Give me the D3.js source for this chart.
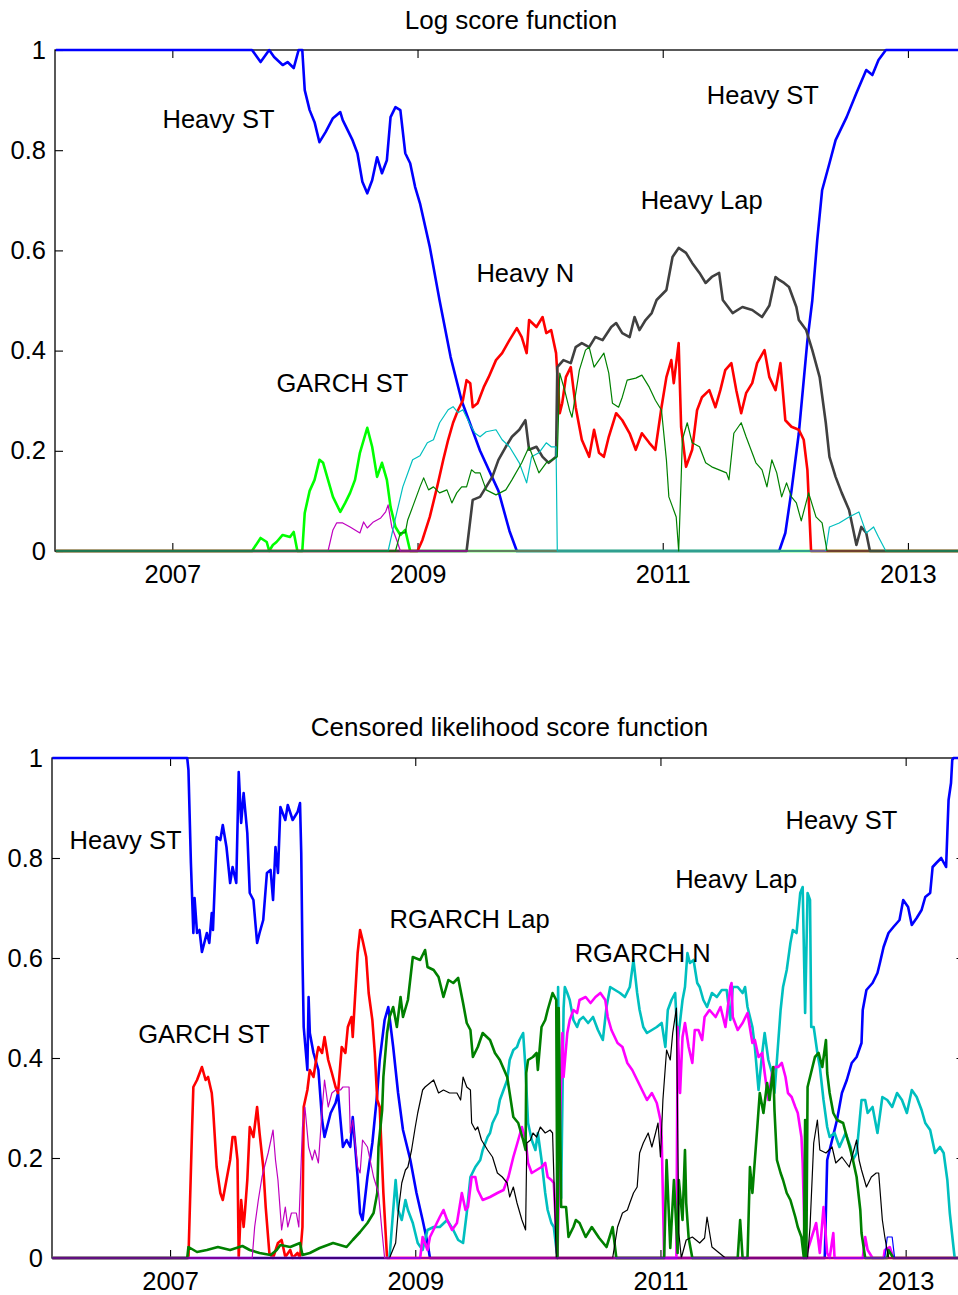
<!DOCTYPE html>
<html><head><meta charset="utf-8">
<script src="https://cdn.jsdelivr.net/npm/d3@7"></script>
<style>
body{margin:0;background:#fff}
svg{display:block}
text{font-family:"Liberation Sans",Arial,Helvetica,sans-serif;fill:#000}
</style>
</head><body><div id="chart"></div>
<script>
// ---------- shared tick labels ----------
const yearTicks = [2007, 2009, 2011, 2013];
const valueTicks = [0, 0.2, 0.4, 0.6, 0.8, 1];

// ---------- TOP PANEL: Log score function ([decimal year, weight]) ----------
const topHeavyST = [[2006.05,1],[2007.65,1],[2007.72,0.976],[2007.79,1],[2007.83,0.986],[2007.90,0.97],[2007.94,0.976],[2007.99,0.964],[2008.03,1],[2008.06,1],[2008.08,0.92],[2008.12,0.88],[2008.16,0.856],[2008.20,0.816],[2008.25,0.836],[2008.31,0.864],[2008.37,0.876],[2008.39,0.86],[2008.43,0.84],[2008.47,0.82],[2008.51,0.794],[2008.55,0.737],[2008.59,0.714],[2008.63,0.74],[2008.67,0.786],[2008.71,0.754],[2008.75,0.78],[2008.78,0.866],[2008.82,0.886],[2008.86,0.88],[2008.90,0.794],[2008.94,0.774],[2008.98,0.727],[2009.02,0.694],[2009.10,0.607],[2009.18,0.5],[2009.27,0.387],[2009.36,0.30],[2009.51,0.2],[2009.66,0.12],[2009.75,0.04],[2009.81,0],[2011.95,0],[2012.00,0.036],[2012.05,0.12],[2012.11,0.235],[2012.18,0.42],[2012.22,0.5],[2012.26,0.62],[2012.30,0.72],[2012.36,0.774],[2012.41,0.82],[2012.50,0.866],[2012.58,0.914],[2012.66,0.96],[2012.71,0.95],[2012.76,0.98],[2012.82,1],[2013.49,1]];
const topGarchST = [[2006.05,0],[2007.65,0],[2007.72,0.026],[2007.77,0.018],[2007.79,0],[2007.82,0.012],[2007.85,0.018],[2007.90,0.032],[2007.96,0.028],[2007.99,0.038],[2008.02,0],[2008.06,0],[2008.08,0.076],[2008.12,0.12],[2008.16,0.142],[2008.20,0.182],[2008.23,0.176],[2008.27,0.142],[2008.31,0.108],[2008.37,0.078],[2008.41,0.096],[2008.45,0.116],[2008.49,0.142],[2008.53,0.196],[2008.59,0.246],[2008.63,0.208],[2008.67,0.148],[2008.71,0.176],[2008.75,0.142],[2008.78,0.088],[2008.82,0.048],[2008.86,0.032],[2008.90,0.042],[2008.94,0],[2013.49,0]];
const topHeavyN = [[2006.05,0],[2009.00,0],[2009.04,0.022],[2009.10,0.068],[2009.16,0.128],[2009.21,0.182],[2009.25,0.222],[2009.29,0.256],[2009.33,0.281],[2009.37,0.301],[2009.40,0.341],[2009.43,0.335],[2009.45,0.287],[2009.49,0.295],[2009.54,0.327],[2009.58,0.347],[2009.64,0.381],[2009.69,0.395],[2009.75,0.421],[2009.81,0.445],[2009.85,0.427],[2009.89,0.395],[2009.91,0.461],[2009.97,0.447],[2010.02,0.467],[2010.05,0.435],[2010.09,0.441],[2010.13,0.395],[2010.16,0.275],[2010.18,0.295],[2010.21,0.347],[2010.25,0.367],[2010.29,0.287],[2010.34,0.222],[2010.40,0.188],[2010.44,0.242],[2010.48,0.196],[2010.52,0.188],[2010.56,0.228],[2010.62,0.275],[2010.67,0.261],[2010.73,0.235],[2010.78,0.202],[2010.83,0.235],[2010.89,0.216],[2010.94,0.202],[2010.99,0.287],[2011.03,0.347],[2011.07,0.381],[2011.09,0.335],[2011.13,0.415],[2011.15,0.248],[2011.19,0.168],[2011.24,0.202],[2011.28,0.281],[2011.32,0.307],[2011.38,0.321],[2011.43,0.287],[2011.47,0.321],[2011.51,0.361],[2011.56,0.375],[2011.60,0.321],[2011.64,0.275],[2011.68,0.315],[2011.73,0.335],[2011.77,0.375],[2011.83,0.401],[2011.87,0.347],[2011.92,0.321],[2011.96,0.375],[2012.00,0.261],[2012.05,0.248],[2012.11,0.242],[2012.15,0.222],[2012.18,0.162],[2012.21,0],[2013.49,0]];
const topHeavyLap = [[2006.05,0],[2009.40,0],[2009.45,0.102],[2009.51,0.108],[2009.56,0.128],[2009.61,0.148],[2009.66,0.182],[2009.72,0.208],[2009.77,0.228],[2009.83,0.242],[2009.88,0.261],[2009.91,0.202],[2009.97,0.208],[2010.02,0.188],[2010.07,0.176],[2010.13,0.188],[2010.14,0.367],[2010.19,0.381],[2010.25,0.375],[2010.29,0.407],[2010.34,0.415],[2010.40,0.407],[2010.45,0.427],[2010.51,0.421],[2010.58,0.447],[2010.62,0.455],[2010.67,0.435],[2010.73,0.427],[2010.77,0.467],[2010.81,0.441],[2010.86,0.461],[2010.91,0.475],[2010.95,0.501],[2011.03,0.521],[2011.08,0.587],[2011.13,0.605],[2011.19,0.595],[2011.24,0.575],[2011.30,0.555],[2011.35,0.535],[2011.40,0.547],[2011.46,0.555],[2011.49,0.501],[2011.57,0.475],[2011.65,0.487],[2011.73,0.481],[2011.81,0.467],[2011.87,0.49],[2011.92,0.547],[2011.95,0.541],[2011.99,0.535],[2012.03,0.527],[2012.09,0.487],[2012.11,0.461],[2012.17,0.441],[2012.22,0.401],[2012.28,0.347],[2012.33,0.256],[2012.36,0.188],[2012.41,0.148],[2012.46,0.116],[2012.52,0.082],[2012.58,0.012],[2012.62,0.048],[2012.66,0.036],[2012.69,0],[2013.49,0]];
const topThinMag = [[2006.05,0],[2008.27,0],[2008.31,0.042],[2008.34,0.056],[2008.39,0.056],[2008.45,0.048],[2008.49,0.042],[2008.53,0.036],[2008.56,0.058],[2008.59,0.046],[2008.64,0.058],[2008.70,0.066],[2008.74,0.078],[2008.76,0.092],[2008.79,0.048],[2008.83,0.022],[2008.86,0],[2013.49,0]];
const topThinCyan = [[2006.05,0],[2008.76,0],[2008.83,0.076],[2008.88,0.128],[2008.96,0.182],[2009.02,0.19],[2009.08,0.216],[2009.13,0.222],[2009.18,0.256],[2009.25,0.282],[2009.29,0.288],[2009.33,0.276],[2009.37,0.282],[2009.43,0.252],[2009.47,0.235],[2009.51,0.228],[2009.56,0.238],[2009.64,0.242],[2009.69,0.222],[2009.75,0.208],[2009.83,0.176],[2009.89,0.136],[2009.93,0.188],[2009.99,0.196],[2010.05,0.216],[2010.09,0.208],[2010.13,0.208],[2010.14,0],[2012.33,0],[2012.36,0.048],[2012.44,0.056],[2012.52,0.068],[2012.60,0.078],[2012.66,0.036],[2012.72,0.048],[2012.76,0.028],[2012.82,0],[2013.49,0]];
const topThinGreen = [[2006.05,0],[2008.82,0],[2008.86,0.036],[2008.90,0.036],[2008.92,0.062],[2008.96,0.088],[2009.02,0.128],[2009.05,0.146],[2009.09,0.122],[2009.13,0.128],[2009.18,0.116],[2009.24,0.122],[2009.28,0.096],[2009.32,0.116],[2009.36,0.128],[2009.40,0.128],[2009.44,0.162],[2009.47,0.156],[2009.51,0.156],[2009.56,0.122],[2009.64,0.112],[2009.72,0.122],[2009.77,0.142],[2009.85,0.176],[2009.91,0.208],[2009.99,0.156],[2010.05,0.176],[2010.10,0.182],[2010.14,0.188],[2010.16,0.355],[2010.20,0.321],[2010.24,0.281],[2010.26,0.267],[2010.32,0.361],[2010.37,0.401],[2010.40,0.407],[2010.44,0.367],[2010.52,0.395],[2010.56,0.355],[2010.59,0.295],[2010.64,0.287],[2010.67,0.307],[2010.71,0.341],[2010.78,0.345],[2010.83,0.351],[2010.89,0.327],[2010.94,0.301],[2010.99,0.281],[2011.03,0.182],[2011.05,0.108],[2011.08,0.088],[2011.11,0.068],[2011.13,0],[2011.15,0.142],[2011.16,0.222],[2011.20,0.256],[2011.24,0.216],[2011.30,0.208],[2011.35,0.176],[2011.40,0.168],[2011.46,0.162],[2011.52,0.156],[2011.54,0.142],[2011.58,0.235],[2011.64,0.256],[2011.68,0.228],[2011.72,0.202],[2011.76,0.176],[2011.81,0.162],[2011.85,0.128],[2011.89,0.182],[2011.93,0.156],[2011.97,0.108],[2012.01,0.136],[2012.05,0.108],[2012.09,0.096],[2012.13,0.06],[2012.19,0.116],[2012.25,0.068],[2012.30,0.056],[2012.34,0],[2013.49,0]];

// ---------- BOTTOM PANEL: Censored likelihood score function ----------
const botHeavyST = [[2006.04,1],[2007.14,1],[2007.15,0.976],[2007.17,0.79],[2007.19,0.65],[2007.20,0.72],[2007.22,0.65],[2007.24,0.656],[2007.26,0.612],[2007.30,0.65],[2007.32,0.63],[2007.34,0.69],[2007.35,0.656],[2007.38,0.842],[2007.41,0.836],[2007.43,0.866],[2007.46,0.822],[2007.49,0.75],[2007.51,0.782],[2007.54,0.75],[2007.56,0.972],[2007.58,0.87],[2007.60,0.93],[2007.63,0.85],[2007.65,0.73],[2007.68,0.716],[2007.71,0.63],[2007.73,0.65],[2007.76,0.676],[2007.79,0.77],[2007.82,0.776],[2007.84,0.716],[2007.86,0.822],[2007.88,0.77],[2007.90,0.902],[2007.94,0.876],[2007.96,0.906],[2008.00,0.876],[2008.04,0.892],[2008.06,0.91],[2008.07,0.81],[2008.08,0.602],[2008.09,0.462],[2008.12,0.376],[2008.13,0.522],[2008.14,0.45],[2008.17,0.41],[2008.21,0.376],[2008.24,0.276],[2008.26,0.242],[2008.31,0.29],[2008.35,0.31],[2008.37,0.33],[2008.41,0.222],[2008.44,0.236],[2008.47,0.222],[2008.49,0.282],[2008.53,0.162],[2008.55,0.09],[2008.57,0.076],[2008.61,0.162],[2008.65,0.23],[2008.69,0.33],[2008.71,0.396],[2008.75,0.476],[2008.78,0.502],[2008.82,0.422],[2008.86,0.33],[2008.90,0.256],[2008.96,0.196],[2009.01,0.13],[2009.06,0.076],[2009.10,0.03],[2009.12,0],[2012.34,0],[2012.36,0.196],[2012.40,0.236],[2012.44,0.276],[2012.48,0.33],[2012.52,0.356],[2012.56,0.39],[2012.60,0.402],[2012.64,0.43],[2012.65,0.496],[2012.68,0.536],[2012.73,0.55],[2012.77,0.57],[2012.79,0.59],[2012.82,0.622],[2012.86,0.65],[2012.90,0.662],[2012.95,0.676],[2012.98,0.716],[2013.02,0.702],[2013.05,0.666],[2013.09,0.68],[2013.13,0.696],[2013.16,0.722],[2013.20,0.73],[2013.22,0.782],[2013.25,0.79],[2013.29,0.80],[2013.33,0.782],[2013.34,0.85],[2013.35,0.916],[2013.37,0.95],[2013.38,0.996],[2013.39,1],[2013.48,1]];
const botThinBlue = [[2006.04,0],[2012.83,0],[2012.85,0.042],[2012.89,0.042],[2012.91,0],[2013.48,0]];
const botGarchST = [[2006.04,0],[2007.15,0],[2007.18,0.262],[2007.19,0.342],[2007.22,0.356],[2007.26,0.382],[2007.29,0.356],[2007.31,0.362],[2007.34,0.33],[2007.35,0.302],[2007.38,0.182],[2007.41,0.13],[2007.43,0.116],[2007.46,0.156],[2007.49,0.196],[2007.51,0.242],[2007.53,0.242],[2007.55,0.196],[2007.56,0],[2007.58,0.116],[2007.60,0.062],[2007.61,0.09],[2007.63,0.156],[2007.65,0.262],[2007.68,0.242],[2007.71,0.302],[2007.73,0.25],[2007.76,0.182],[2007.78,0.102],[2007.81,0.01],[2007.84,0],[2007.88,0.03],[2007.91,0.036],[2007.94,0.002],[2007.98,0.016],[2008.00,0],[2008.04,0.01],[2008.06,0],[2008.08,0.062],[2008.09,0.302],[2008.12,0.336],[2008.14,0.376],[2008.17,0.362],[2008.20,0.41],[2008.21,0.422],[2008.24,0.41],[2008.26,0.442],[2008.29,0.396],[2008.32,0.37],[2008.35,0.342],[2008.37,0.33],[2008.40,0.422],[2008.43,0.41],[2008.45,0.462],[2008.48,0.482],[2008.49,0.442],[2008.53,0.61],[2008.55,0.656],[2008.57,0.636],[2008.60,0.602],[2008.62,0.53],[2008.65,0.476],[2008.67,0.41],[2008.69,0.316],[2008.71,0.302],[2008.74,0.13],[2008.77,0],[2013.48,0]];
const botThinMag = [[2006.04,0],[2007.67,0],[2007.69,0.062],[2007.72,0.116],[2007.75,0.162],[2007.77,0.182],[2007.80,0.21],[2007.84,0.256],[2007.86,0.196],[2007.88,0.156],[2007.91,0.056],[2007.94,0.102],[2007.96,0.062],[2007.99,0.09],[2008.03,0.09],[2008.05,0.062],[2008.08,0.262],[2008.10,0.302],[2008.13,0.222],[2008.16,0.196],[2008.18,0.216],[2008.21,0.19],[2008.24,0.296],[2008.26,0.356],[2008.29,0.302],[2008.32,0.33],[2008.35,0.336],[2008.39,0.336],[2008.41,0.342],[2008.46,0.342],[2008.47,0.25],[2008.49,0.276],[2008.53,0.182],[2008.55,0.17],[2008.57,0.236],[2008.61,0.222],[2008.66,0.162],[2008.70,0.13],[2008.73,0.05],[2008.75,0],[2013.48,0]];
const botRgarchLap = [[2006.04,0],[2007.14,0],[2007.15,0.022],[2007.22,0.012],[2007.30,0.016],[2007.39,0.022],[2007.49,0.016],[2007.59,0.024],[2007.65,0.016],[2007.73,0.01],[2007.82,0.006],[2007.87,0.016],[2007.90,0.026],[2007.98,0.022],[2008.06,0.03],[2008.08,0.006],[2008.14,0.01],[2008.22,0.02],[2008.33,0.03],[2008.44,0.022],[2008.49,0.036],[2008.55,0.052],[2008.61,0.07],[2008.66,0.09],[2008.69,0.13],[2008.70,0.222],[2008.73,0.296],[2008.74,0.362],[2008.77,0.45],[2008.79,0.482],[2008.82,0.502],[2008.85,0.462],[2008.88,0.522],[2008.90,0.482],[2008.94,0.516],[2008.98,0.602],[2009.04,0.596],[2009.08,0.616],[2009.10,0.582],[2009.15,0.576],[2009.19,0.562],[2009.23,0.522],[2009.27,0.556],[2009.31,0.55],[2009.35,0.56],[2009.39,0.51],[2009.42,0.47],[2009.45,0.456],[2009.47,0.402],[2009.51,0.422],[2009.55,0.45],[2009.61,0.436],[2009.65,0.41],[2009.69,0.396],[2009.75,0.362],[2009.77,0.33],[2009.80,0.282],[2009.84,0.27],[2009.88,0.236],[2009.90,0.216],[2009.905,0.37],[2009.92,0.396],[2009.96,0.402],[2009.99,0.41],[2010.00,0.376],[2010.03,0.462],[2010.06,0.476],[2010.08,0.496],[2010.12,0.53],[2010.15,0.516],[2010.16,0],[2010.17,0.5],[2010.19,0.102],[2010.23,0.102],[2010.25,0.042],[2010.29,0.062],[2010.31,0.076],[2010.34,0.07],[2010.39,0.042],[2010.44,0.062],[2010.50,0.04],[2010.56,0.022],[2010.61,0.062],[2010.64,0],[2011.03,0],[2011.05,0.196],[2011.08,0.02],[2011.11,0.156],[2011.14,0.01],[2011.15,0.156],[2011.18,0.076],[2011.20,0.216],[2011.21,0.11],[2011.23,0.04],[2011.26,0],[2011.63,0],[2011.65,0.076],[2011.67,0],[2011.71,0],[2011.73,0.182],[2011.75,0.13],[2011.79,0.262],[2011.81,0.33],[2011.84,0.29],[2011.87,0.35],[2011.89,0.316],[2011.92,0.382],[2011.93,0.296],[2011.95,0.196],[2011.98,0.17],[2012.00,0.156],[2012.03,0.13],[2012.06,0.116],[2012.10,0.082],[2012.12,0.062],[2012.15,0.042],[2012.17,0],[2012.18,0.276],[2012.19,0],[2012.20,0.342],[2012.24,0.382],[2012.26,0.402],[2012.29,0.41],[2012.32,0.382],[2012.35,0.436],[2012.36,0.37],[2012.38,0.33],[2012.41,0.29],[2012.44,0.276],[2012.49,0.27],[2012.52,0.242],[2012.55,0.216],[2012.57,0.196],[2012.60,0.162],[2012.63,0.096],[2012.64,0.05],[2012.67,0],[2012.85,0],[2012.86,0.016],[2012.90,0],[2013.48,0]];
const botThinBlack = [[2006.04,0],[2008.79,0],[2008.84,0.03],[2008.86,0.09],[2008.89,0.15],[2008.92,0.176],[2008.94,0.182],[2008.97,0.216],[2009.00,0.262],[2009.02,0.29],[2009.06,0.336],[2009.08,0.342],[2009.12,0.35],[2009.15,0.356],[2009.19,0.33],[2009.23,0.336],[2009.28,0.33],[2009.34,0.33],[2009.37,0.316],[2009.39,0.362],[2009.42,0.342],[2009.45,0.336],[2009.46,0.27],[2009.49,0.256],[2009.51,0.262],[2009.54,0.236],[2009.59,0.216],[2009.63,0.202],[2009.67,0.17],[2009.71,0.162],[2009.75,0.15],[2009.77,0.122],[2009.80,0.142],[2009.83,0.11],[2009.87,0.076],[2009.90,0.056],[2009.91,0.23],[2009.94,0.236],[2009.96,0.25],[2009.99,0.242],[2010.02,0.262],[2010.06,0.25],[2010.10,0.256],[2010.12,0.25],[2010.15,0],[2010.61,0],[2010.65,0.062],[2010.69,0.09],[2010.73,0.096],[2010.75,0.11],[2010.78,0.13],[2010.81,0.142],[2010.83,0.21],[2010.86,0.23],[2010.90,0.25],[2010.93,0.222],[2010.96,0.25],[2010.98,0.27],[2011.00,0.202],[2011.02,0.316],[2011.05,0.416],[2011.08,0.396],[2011.10,0.45],[2011.13,0.50],[2011.15,0.05],[2011.17,0],[2011.21,0.036],[2011.26,0.042],[2011.32,0.03],[2011.36,0.04],[2011.38,0.082],[2011.42,0.022],[2011.48,0.01],[2011.53,0],[2012.20,0],[2012.22,0.062],[2012.25,0.23],[2012.28,0.276],[2012.30,0.216],[2012.35,0.21],[2012.40,0.222],[2012.43,0.19],[2012.48,0.202],[2012.54,0.182],[2012.60,0.236],[2012.62,0.196],[2012.64,0.176],[2012.68,0.142],[2012.72,0.162],[2012.76,0.17],[2012.78,0.17],[2012.81,0.076],[2012.83,0.042],[2012.86,0],[2013.48,0]];
const botHeavyLap = [[2006.04,0],[2008.79,0],[2008.82,0.096],[2008.84,0.156],[2008.86,0.096],[2008.89,0.076],[2008.92,0.116],[2008.94,0.096],[2008.98,0.07],[2009.02,0.03],[2009.06,0.016],[2009.10,0.056],[2009.15,0.062],[2009.20,0.062],[2009.26,0.076],[2009.31,0.056],[2009.35,0.036],[2009.39,0.03],[2009.42,0.09],[2009.45,0.162],[2009.49,0.182],[2009.53,0.196],[2009.55,0.216],[2009.59,0.242],[2009.61,0.25],[2009.63,0.27],[2009.67,0.29],[2009.69,0.316],[2009.72,0.336],[2009.75,0.356],[2009.77,0.396],[2009.80,0.416],[2009.83,0.422],[2009.85,0.436],[2009.88,0.45],[2009.90,0.376],[2009.92,0.27],[2009.95,0.236],[2009.98,0.216],[2010.00,0.25],[2010.03,0.196],[2010.06,0.13],[2010.08,0.096],[2010.11,0.07],[2010.13,0.062],[2010.155,0.01],[2010.165,0.542],[2010.19,0.12],[2010.21,0.5],[2010.22,0.542],[2010.24,0.53],[2010.26,0.516],[2010.29,0.476],[2010.32,0.462],[2010.34,0.476],[2010.37,0.482],[2010.41,0.47],[2010.45,0.482],[2010.49,0.456],[2010.53,0.436],[2010.56,0.502],[2010.59,0.542],[2010.63,0.536],[2010.67,0.53],[2010.71,0.522],[2010.75,0.542],[2010.78,0.596],[2010.81,0.53],[2010.83,0.496],[2010.86,0.462],[2010.89,0.45],[2010.93,0.456],[2010.97,0.462],[2011.01,0.47],[2011.04,0.422],[2011.06,0.496],[2011.09,0.516],[2011.12,0.53],[2011.14,0.43],[2011.18,0.516],[2011.20,0.542],[2011.22,0.61],[2011.24,0.59],[2011.27,0.596],[2011.30,0.55],[2011.32,0.542],[2011.35,0.516],[2011.38,0.502],[2011.42,0.53],[2011.46,0.522],[2011.50,0.536],[2011.54,0.536],[2011.57,0.476],[2011.59,0.542],[2011.63,0.542],[2011.67,0.53],[2011.69,0.542],[2011.71,0.502],[2011.75,0.462],[2011.77,0.422],[2011.80,0.336],[2011.83,0.41],[2011.85,0.45],[2011.88,0.396],[2011.91,0.37],[2011.93,0.33],[2011.95,0.396],[2011.98,0.496],[2012.00,0.542],[2012.03,0.576],[2012.06,0.63],[2012.08,0.656],[2012.11,0.65],[2012.14,0.73],[2012.16,0.742],[2012.18,0.49],[2012.20,0.73],[2012.22,0.716],[2012.23,0.462],[2012.25,0.462],[2012.28,0.41],[2012.30,0.382],[2012.33,0.316],[2012.36,0.262],[2012.38,0.242],[2012.42,0.25],[2012.46,0.222],[2012.51,0.25],[2012.55,0.222],[2012.57,0.196],[2012.60,0.21],[2012.64,0.316],[2012.67,0.316],[2012.69,0.29],[2012.73,0.302],[2012.77,0.25],[2012.81,0.322],[2012.85,0.316],[2012.89,0.302],[2012.93,0.33],[2012.97,0.316],[2013.01,0.29],[2013.05,0.336],[2013.09,0.322],[2013.13,0.296],[2013.16,0.27],[2013.20,0.256],[2013.24,0.21],[2013.28,0.222],[2013.31,0.21],[2013.34,0.156],[2013.36,0.09],[2013.39,0.022],[2013.40,0],[2013.48,0]];
const botRgarchN = [[2006.04,0],[2009.04,0],[2009.06,0.042],[2009.10,0.016],[2009.12,0.042],[2009.16,0.062],[2009.20,0.082],[2009.23,0.096],[2009.26,0.076],[2009.30,0.056],[2009.34,0.07],[2009.38,0.13],[2009.41,0.096],[2009.43,0.102],[2009.46,0.162],[2009.49,0.162],[2009.51,0.136],[2009.55,0.116],[2009.61,0.122],[2009.67,0.13],[2009.72,0.136],[2009.76,0.162],[2009.80,0.202],[2009.84,0.236],[2009.87,0.262],[2009.90,0.236],[2009.92,0.19],[2009.95,0.17],[2009.99,0.176],[2010.03,0.182],[2010.06,0.19],[2010.08,0.162],[2010.11,0.156],[2010.13,0.15],[2010.16,0],[2010.18,0.262],[2010.20,0.45],[2010.21,0.362],[2010.24,0.45],[2010.26,0.476],[2010.29,0.496],[2010.32,0.49],[2010.34,0.516],[2010.39,0.522],[2010.43,0.51],[2010.47,0.522],[2010.51,0.53],[2010.55,0.516],[2010.57,0.482],[2010.60,0.456],[2010.65,0.43],[2010.69,0.422],[2010.73,0.39],[2010.77,0.376],[2010.81,0.356],[2010.85,0.336],[2010.89,0.316],[2010.93,0.33],[2010.97,0.31],[2011.00,0.276],[2011.01,0.242],[2011.03,0],[2011.13,0],[2011.14,0.462],[2011.16,0.33],[2011.18,0.442],[2011.20,0.47],[2011.23,0.422],[2011.26,0.39],[2011.28,0.456],[2011.31,0.456],[2011.34,0.436],[2011.36,0.482],[2011.40,0.496],[2011.45,0.482],[2011.49,0.502],[2011.53,0.462],[2011.57,0.542],[2011.58,0.55],[2011.59,0.482],[2011.63,0.456],[2011.67,0.47],[2011.71,0.49],[2011.75,0.43],[2011.77,0.436],[2011.80,0.402],[2011.83,0.41],[2011.85,0.37],[2011.88,0.316],[2011.91,0.37],[2011.93,0.382],[2011.96,0.382],[2011.99,0.39],[2012.02,0.362],[2012.04,0.33],[2012.07,0.322],[2012.10,0.302],[2012.12,0.29],[2012.15,0.242],[2012.16,0.19],[2012.18,0],[2012.27,0.07],[2012.30,0.01],[2012.33,0.102],[2012.36,0.01],[2012.38,0],[2012.41,0.05],[2012.42,0],[2012.65,0],[2012.67,0.042],[2012.69,0.016],[2012.73,0],[2012.82,0],[2012.83,0.016],[2012.87,0.022],[2012.90,0],[2013.48,0]];

// ---------- text annotations (data coordinates) ----------
const topLabels = [
  {text:"Heavy ST", year:2006.92, value:0.844},
  {text:"Heavy ST", year:2011.36, value:0.892},
  {text:"Heavy Lap", year:2010.82, value:0.683},
  {text:"Heavy N", year:2009.48, value:0.537},
  {text:"GARCH ST", year:2007.85, value:0.317}
];
const botLabels = [
  {text:"Heavy ST", year:2006.18, value:0.818},
  {text:"RGARCH Lap", year:2008.79, value:0.66},
  {text:"Heavy ST", year:2012.02, value:0.858},
  {text:"Heavy Lap", year:2011.12, value:0.74},
  {text:"RGARCH N", year:2010.30, value:0.592},
  {text:"GARCH ST", year:2006.74, value:0.43}
];

// ---------- styles & layout ----------
const THIN = 1.2, THICK = 2.6;
const panels = [
  {
    title:"Log score function", titleX:511, titleY:29,
    left:55, right:968, top:50, bottom:551, domain:[2006.043, 2013.49],
    series:[
      {data:topHeavyST, color:"#0000ff", w:THICK},
      {data:topGarchST, color:"#00ff00", w:THICK},
      {data:topHeavyN, color:"#ff0000", w:THICK},
      {data:topHeavyLap, color:"#404040", w:THICK},
      {data:topThinMag, color:"#bf00bf", w:THIN},
      {data:topThinCyan, color:"#00bfbf", w:THIN},
      {data:topThinGreen, color:"#008000", w:THIN}
    ],
    labels:topLabels
  },
  {
    title:"Censored likelihood score function", titleX:509.5, titleY:736,
    left:52, right:964.5, top:758, bottom:1258, domain:[2006.037, 2013.48],
    series:[
      {data:botHeavyST, color:"#0000ff", w:THICK},
      {data:botGarchST, color:"#ff0000", w:THICK},
      {data:botHeavyLap, color:"#00bfbf", w:THICK},
      {data:botRgarchN, color:"#ff00ff", w:THICK},
      {data:botRgarchLap, color:"#008000", w:THICK},
      {data:botThinBlue, color:"#0000ff", w:THIN},
      {data:botThinBlack, color:"#000000", w:THIN},
      {data:botThinMag, color:"#bf00bf", w:THIN}
    ],
    labels:botLabels
  }
];

const W = 958, H = 1295, FS = 25.5;
const svg = d3.select("#chart").append("svg").attr("width", W).attr("height", H);

panels.forEach(p => {
  const x = d3.scaleLinear().domain(p.domain).range([p.left, p.right]);
  const y = d3.scaleLinear().domain([0, 1]).range([p.bottom, p.top]);
  const g = svg.append("g");

  g.append("text").attr("x", p.titleX).attr("y", p.titleY)
    .attr("text-anchor", "middle").style("font-size", "26px").text(p.title);

  const styleAxis = sel => {
    sel.select(".domain").remove();
    sel.selectAll("line").attr("stroke", "#000").attr("stroke-width", 1.1);
    sel.selectAll("text").style("font-size", FS + "px").attr("fill", "#000")
      .style("font-family", '"Liberation Sans",Arial,sans-serif');
  };
  g.append("g").attr("transform", `translate(0,${p.bottom})`)
    .call(d3.axisBottom(x).tickValues(yearTicks).tickFormat(d3.format("d")).tickSizeInner(-8).tickSizeOuter(0).tickPadding(14))
    .call(styleAxis);
  g.append("g").attr("transform", `translate(0,${p.top})`)
    .call(d3.axisTop(x).tickValues(yearTicks).tickFormat("").tickSizeInner(-8).tickSizeOuter(0))
    .call(styleAxis);
  g.append("g").attr("transform", `translate(${p.left},0)`)
    .call(d3.axisLeft(y).tickValues(valueTicks).tickFormat(d => d3.format("")(+d.toFixed(1))).tickSizeInner(-8).tickSizeOuter(0).tickPadding(9))
    .call(styleAxis);
  g.append("g").attr("transform", `translate(${p.right},0)`)
    .call(d3.axisRight(y).tickValues(valueTicks).tickFormat("").tickSizeInner(-8).tickSizeOuter(0))
    .call(styleAxis);

  g.append("rect").attr("x", p.left).attr("y", p.top)
    .attr("width", p.right - p.left).attr("height", p.bottom - p.top)
    .attr("fill", "none").attr("stroke", "#000").attr("stroke-width", 1.3);

  const line = d3.line().x(d => x(d[0])).y(d => y(d[1]));
  p.series.forEach(s => {
    g.append("path").datum(s.data).attr("d", line)
      .attr("fill", "none").attr("stroke", s.color).attr("stroke-width", s.w)
      .attr("stroke-linejoin", "round").attr("stroke-linecap", "butt");
  });

  p.labels.forEach(l => {
    g.append("text").attr("x", x(l.year)).attr("y", y(l.value))
      .style("font-size", FS + "px").text(l.text);
  });
});
</script>
</body></html>
